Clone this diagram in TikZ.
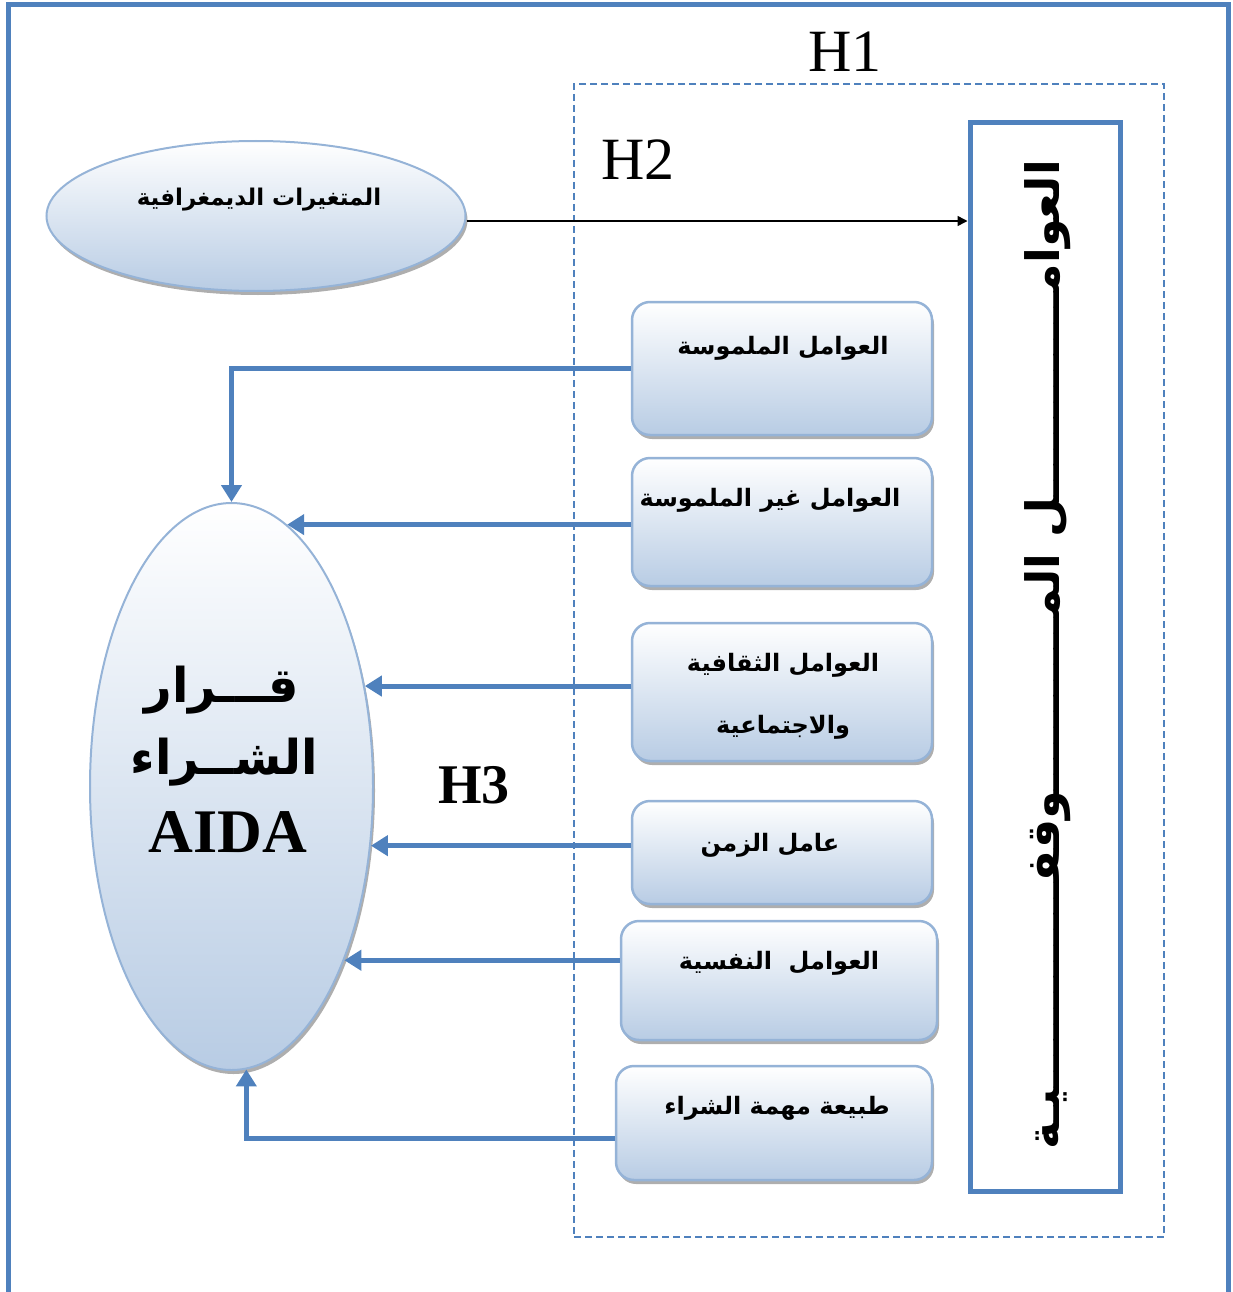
\documentclass[tikz,border=0pt]{standalone}
\usepackage{fontspec}
\setmainfont{Liberation Serif}
\newfontfamily\arabicfont[Script=Arabic]{DejaVu Sans}
\TeXXeTstate=1
\usetikzlibrary{shapes.geometric,shadows,arrows.meta,calc}

\definecolor{frameblue}{HTML}{4F81BD}
\definecolor{edgeblue}{HTML}{95B3D7}
\definecolor{fillblue}{HTML}{B8CCE4}

\tikzset{
  softshadow/.style={drop shadow={shadow xshift=2pt, shadow yshift=-4pt, fill=black!45, opacity=0.7}},
  factor/.style={draw=edgeblue, line width=2.5pt, rounded corners=18pt,
    top color=white, bottom color=fillblue, softshadow},
  oval/.style={ellipse, draw=edgeblue, line width=2pt,
    top color=white, bottom color=fillblue, softshadow},
  artext/.style={font=\arabicfont\bfseries\fontsize{24}{28}\selectfont, inner sep=0pt},
  flow/.style={draw=frameblue, line width=5pt, -{Triangle[width=20pt,length=17pt]}},
  hlabel/.style={font=\fontsize{60}{64}\selectfont, inner sep=0pt},
}

\begin{document}
\begin{tikzpicture}[x=1pt, y=-1pt]
  \useasboundingbox (0,0) rectangle (1233,1292);

  % outer frame (open at the bottom)
  \draw[frameblue, line width=5pt] (8,1300) -- (8,5) -- (1228,5) -- (1228,1300);

  % dashed hypothesis region
  \node[draw=frameblue, dashed, line width=1.5pt, dash pattern=on 7pt off 4pt,
        minimum width=590pt, minimum height=1153pt, inner sep=0pt] (region) at (869,660.5) {};

  \node[hlabel] (h1) at (845,52) {H1};
  \node[hlabel] (h2) at (638,160) {H2};
  \node[hlabel, font=\bfseries\fontsize{56}{60}\selectfont] (h3) at (474,785) {H3};

  % situational factors column
  \node[draw=frameblue, line width=5pt, fill=white, minimum width=150pt, minimum height=1068pt, inner sep=0pt] (sit) at (1045,657) {};
  \node[rotate=90, font=\arabicfont\bfseries\fontsize{46}{50}\selectfont, inner sep=0pt] (sittext) at (1048,655)
    {\beginR العوامـــــــــــــل المـــــــــــوقفـــــــــــــيـة\endR};

  % demographic variables
  \node[oval, minimum width=419pt, minimum height=150pt] (demo) at (256,216) {};
  \node[artext, font=\arabicfont\bfseries\fontsize{23}{27}\selectfont] (demotext) at (259,200) {\beginR المتغيرات الديمغرافية\endR};
  \draw[line width=1.5pt, -{Triangle[width=10pt,length=10pt]}] (demo.east |- 0,221) -- (sit.west |- 0,221);

  % purchase decision
  \node[oval, minimum width=283pt, minimum height=567pt] (dec) at (231.5,786.5) {};
  \node[font=\arabicfont\bfseries\fontsize{48}{52}\selectfont, inner sep=0pt] (dec1) at (222,690) {\beginR قـــرار\endR};
  \node[font=\arabicfont\bfseries\fontsize{48}{52}\selectfont, inner sep=0pt] (dec2) at (224,762) {\beginR الشــراء\endR};
  \node[font=\bfseries\fontsize{62}{66}\selectfont, inner sep=0pt] (dec3) at (228,832) {AIDA};

  % factor boxes
  \node[factor, minimum width=300pt, minimum height=133pt] (b1) at (782,368.5) {};
  \node[factor, minimum width=300pt, minimum height=128pt] (b2) at (782,522) {};
  \node[factor, minimum width=300pt, minimum height=138pt] (b3) at (782,692) {};
  \node[factor, minimum width=300pt, minimum height=103pt] (b4) at (782,852.5) {};
  \node[factor, minimum width=316pt, minimum height=119pt] (b5) at (779,980.5) {};
  \node[factor, minimum width=316pt, minimum height=114pt] (b6) at (774,1123) {};

  \node[artext] (t1) at (783,348) {\beginR العوامل الملموسة\endR};
  \node[artext] (t2) at (770,500) {\beginR العوامل غير الملموسة\endR};
  \node[artext] (t3a) at (783,665) {\beginR العوامل الثقافية\endR};
  \node[artext] (t3b) at (783,727) {\beginR والاجتماعية\endR};
  \node[artext] (t4) at (770,845) {\beginR عامل الزمن\endR};
  \node[artext] (t5) at (779,963) {\beginR العوامل\ \ النفسية\endR};
  \node[artext] (t6) at (777,1108) {\beginR طبيعة مهمة الشراء\endR};

  % influence arrows towards the decision
  \draw[flow] (b1.west) -| (dec.north);
  \draw[flow] (b2.west |- dec.78.5) -- (dec.78.5);
  \draw[flow] (b3.west |- dec.37.6) -- (dec.37.6);
  \draw[flow] (b4.west |- dec.-23.3) -- (dec.-23.3);
  \draw[flow] (b5.west |- dec.-57.4) -- (dec.-57.4);
  \draw[flow] ([yshift=-15pt]b6.west) -| (dec.-87.5);
\end{tikzpicture}
\end{document}
